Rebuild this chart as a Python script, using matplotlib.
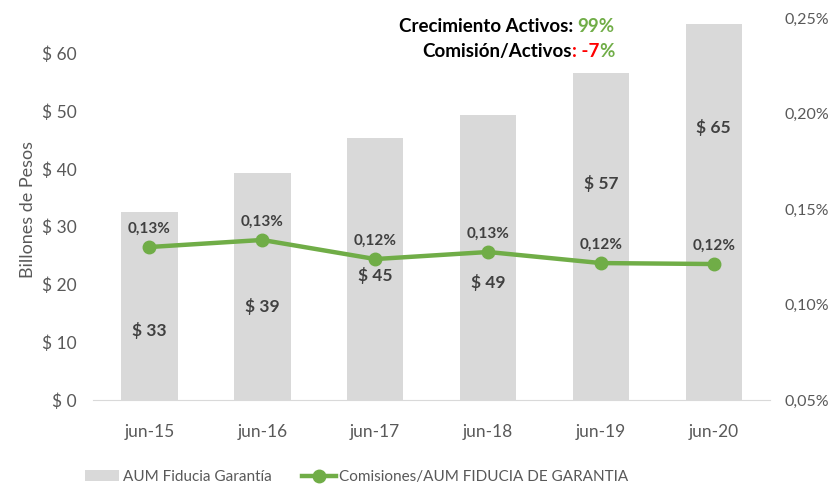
import matplotlib
matplotlib.use("Agg")
import matplotlib.pyplot as plt
from matplotlib.ticker import FuncFormatter
from matplotlib.offsetbox import TextArea, HPacker, VPacker, AnchoredOffsetbox

plt.rcParams['font.family'] = ['Lato', 'DejaVu Sans']

# data
periods = ['jun-15', 'jun-16', 'jun-17', 'jun-18', 'jun-19', 'jun-20']
aum = [32.5, 39.2, 45.4, 49.3, 56.6, 65.1]          # billones de pesos
aum_labels = ['$ 33', '$ 39', '$ 45', '$ 49', '$ 57', '$ 65']
comision = [0.1301, 0.1338, 0.1238, 0.1275, 0.1217, 0.1212]  # %
comision_labels = ['0,13%', '0,13%', '0,12%', '0,13%', '0,12%', '0,12%']
# where the bar labels were dragged to in the original (data units)
aum_label_y = [12.1, 16.1, 21.5, 20.4, 37.5, 47.1]

bar_col = '#D9D9D9'
line_col = '#70AD47'
tick_col = '#595959'
lab_col = '#404040'

fig = plt.figure(figsize=(8.3, 4.91), dpi=100)
ax = fig.add_axes([0.112, 0.1853, 0.816, 0.778])
x = range(len(periods))

ax.bar(x, aum, width=0.5, color=bar_col, label='AUM Fiducia Garantía', zorder=1)
for xi, ly, t in zip(x, aum_label_y, aum_labels):
    ax.text(xi, ly, t, ha='center', va='center', fontsize=12.5, fontweight='bold', color=lab_col)

ax.set_xlim(-0.5, 5.5)
ax.set_ylim(0, 66.1)
ax.set_yticks(range(0, 61, 10))
ax.yaxis.set_major_formatter(FuncFormatter(lambda v, p: f'$ {v:.0f}'))
ax.set_xticks(list(x))
ax.set_xticklabels(periods)
ax.tick_params(axis='both', length=0, labelsize=12.5, colors=tick_col)
ax.tick_params(axis='x', pad=17)
ax.tick_params(axis='y', pad=12)
for s in ['top', 'right', 'left']:
    ax.spines[s].set_visible(False)
ax.spines['bottom'].set_color('#D9D9D9')
ax.set_ylabel('Billones de Pesos', fontsize=13, color=tick_col, labelpad=4)

ax2 = ax.twinx()
ax2.plot(x, comision, color=line_col, lw=3.2, marker='o', markersize=9,
         label='Comisiones/AUM FIDUCIA DE GARANTIA', zorder=3)
for xi, v, t in zip(x, comision, comision_labels):
    ax2.annotate(t, (xi, v), xytext=(0, 8), textcoords='offset points',
                 ha='center', va='bottom', fontsize=11, fontweight='bold', color=lab_col)
ax2.set_ylim(0.05, 0.25)
ax2.set_yticks([0.05, 0.10, 0.15, 0.20, 0.25])
ax2.yaxis.set_major_formatter(FuncFormatter(lambda v, p: f'{v:.2f}%'.replace('.', ',')))
ax2.tick_params(axis='y', length=0, labelsize=11.5, colors=tick_col, pad=10)
for s in ax2.spines.values():
    s.set_visible(False)

# summary text block
fp = dict(fontsize=13.5, fontweight='bold')
line1 = HPacker(children=[TextArea('Crecimiento Activos: ', textprops=dict(color='black', **fp)),
                          TextArea('99%', textprops=dict(color=line_col, **fp))], pad=0, sep=0)
line2 = HPacker(children=[TextArea('Comisión/Activos', textprops=dict(color='black', **fp)),
                          TextArea(': -7', textprops=dict(color='red', **fp)),
                          TextArea('%', textprops=dict(color=line_col, **fp))], pad=0, sep=0)
block = VPacker(children=[line1, line2], align='right', pad=0, sep=6)
box = AnchoredOffsetbox(loc='upper right', child=block, frameon=False,
                        bbox_to_anchor=(620 / 830, 1 - 12 / 491), bbox_transform=fig.transFigure,
                        borderpad=0)
fig.add_artist(box)

h1, l1 = ax.get_legend_handles_labels()
h2, l2 = ax2.get_legend_handles_labels()
fig.legend(h1 + h2, l1 + l2, loc='center', bbox_to_anchor=(0.43, 1 - 477 / 491), ncol=2,
           frameon=False, fontsize=11, labelcolor=tick_col, handlelength=2.2,
           handletextpad=0.25, columnspacing=2.0)

fig.savefig('out.png', dpi=100)
